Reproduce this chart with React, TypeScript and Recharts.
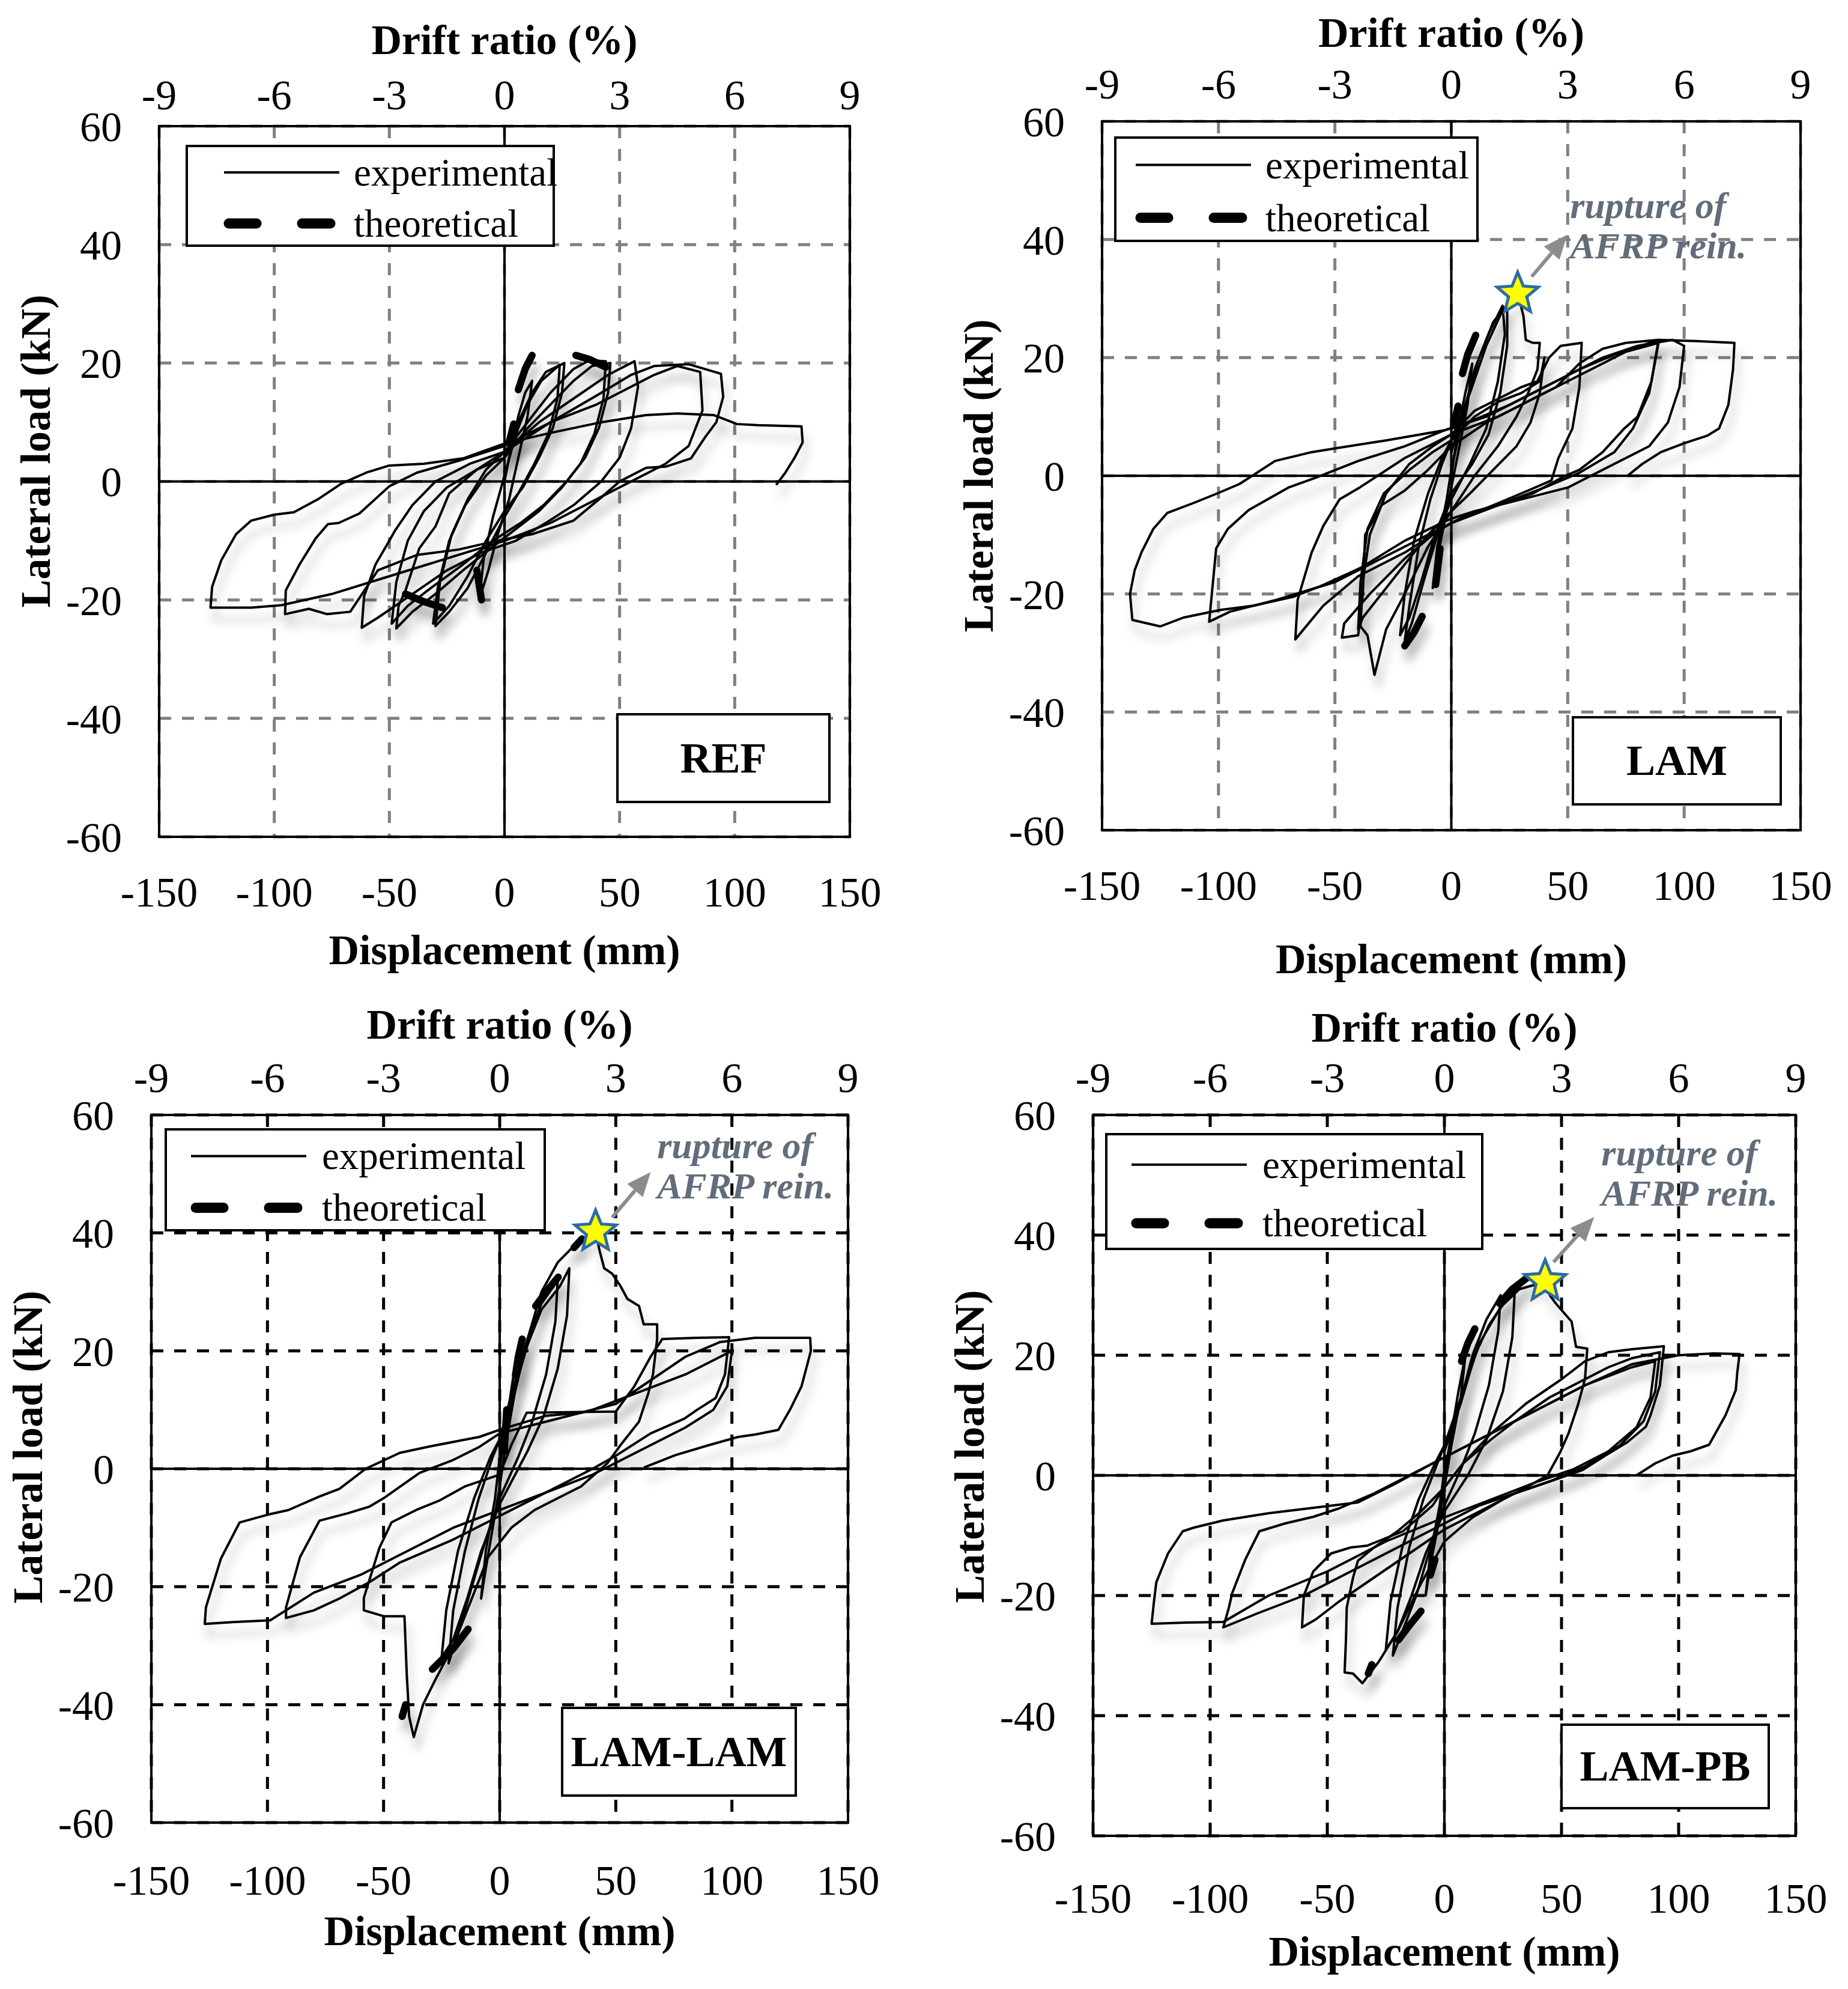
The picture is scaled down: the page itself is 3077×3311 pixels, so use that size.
import React from 'react';
import {
  LineChart,
  Line,
  XAxis,
  YAxis,
  CartesianGrid,
  ReferenceLine,
  ReferenceDot,
} from 'recharts';

/* ================= AXES ================= */
const dispTicks = [-150, -100, -50, 0, 50, 100, 150];
const driftTicks = [-9, -6, -3, 0, 3, 6, 9];
const loadTicks = [-60, -40, -20, 0, 20, 40, 60];

/* ================= REF (displacement mm, load kN) ================= */
const refC1 = [[0,0],[3,6],[6,11],[9,15],[12,17],[10,11],[6,4],[2,-3],[-3,-9],[-7,-15],[-11,-20],[-9,-13],[-5,-6],[0,1]];
const refC2 = [[0,1],[5,8],[10,13],[16,17],[24,19.7],[23,14],[19,8],[13,3],[6,-2],[0,-6],[-8,-12],[-16,-18],[-24,-22],[-30,-24.4],[-28,-17],[-23,-9],[-16,-3],[-8,2],[0,5]];
const refC2b = [[0,4],[6,10],[12,15],[18,18.5],[26,20],[25,15],[21,9],[15,4],[8,-1],[0,-5],[-8,-10],[-16,-16],[-24,-21],[-31,-24],[-29,-18],[-24,-10],[-17,-4],[-8,1],[0,4]];
const refC3 = [[0,5],[10,10],[20,15],[30,19],[37,20.5],[44,20.3],[43,14],[39,8],[33,3],[25,-1],[15,-5],[5,-8],[-5,-11],[-18,-15],[-30,-19],[-40,-22],[-47,-24.8],[-46,-21],[-43,-18.4],[-37,-11.3],[-30,-7.6],[-24,-2],[-12,2],[0,5]];
const refC3b = [[0,4],[10,9],[20,13],[30,17],[38,19.5],[46,20],[45,15],[41,9],[35,4],[27,0],[17,-4],[7,-7],[-5,-10],[-18,-14],[-32,-18],[-42,-21],[-49,-24],[-47,-17],[-42,-10],[-35,-5],[-25,-1],[-12,2],[0,4]];
const refC4 = [[0,5],[15,10],[30,14],[45,18],[56.5,20.3],[58,16],[55,9],[50,4],[42,0],[30,-4],[18,-7],[5,-10],[-10,-12],[-25,-15],[-40,-19],[-55,-23],[-62,-24.7],[-61,-19.4],[-56,-14],[-50,-10],[-47.4,-8.2],[-40,-4],[-30,0],[-15,3],[0,5]];
const refC5 = [[0,5],[20,10],[40,14.5],[55,18],[65,19.5],[80,19.8],[94,18.2],[95,14.3],[92,10],[87,7.4],[81,3.9],[70,2.5],[61.5,2.3],[50,0],[42,-2.7],[30,-6.6],[12,-8.9],[-2,-9.9],[-20,-11.5],[-38,-12.4],[-55,-15],[-67,-22],[-77,-22.4],[-85,-21.5],[-95.3,-22.4],[-95,-18.4],[-89,-14],[-82,-9.6],[-76.7,-7.2],[-72,-7],[-63,-5.4],[-50,-0.8],[-38,1.5],[-20,3.5],[0,6]];
const refC6 = [[0,6],[20,10],[40,13],[55,16],[65,18],[75,19.5],[85,18.5],[86,12],[80,6],[70,3],[55,0],[40,-3],[20,-7],[0,-10],[-25,-13],[-50,-16],[-75,-19],[-97,-20.9],[-110,-21.3],[-127.7,-21.3],[-127,-17.8],[-123,-13.3],[-116.6,-8.9],[-110,-6.6],[-100,-5.6],[-91.5,-5.2],[-81,-3],[-71,-0.4],[-60,1.5],[-50,2.7],[-35,3],[-18,3.9],[0,6.4],[20,8.2],[42,10],[61.5,11.2],[75,11.5],[91,11.2],[101,9.7],[110,9.5],[129,9.3],[129.5,6.6],[126,4],[122,1.5],[118,-0.6]];
const refTh1 = [[6,15.5],[9,19],[12,21.3]];
const refTh2 = [[31,21.3],[37,20.6],[44,19.3]];
const refTh3 = [[2,6.6],[4,9.7]];
const refTh4 = [[-43,-19],[-35,-20.3],[-27,-21.3]];
const refTh5 = [[-12,-15],[-10,-20]];

/* ================= LAM ================= */
const lamC1 = [[0,0],[3,8],[6,14],[9,19],[7,12],[3,4],[0,-2],[-3,-8],[-6,-14],[-8,-19],[-6,-12],[-2,-4],[0,1]];
const lamC2 = [[0,1],[5,10],[10,18],[16,24],[22,28.8],[23,24],[20,16],[15,8],[8,2],[0,-4],[-6,-10],[-12,-18],[-17,-25],[-20,-28],[-18,-22],[-14,-12],[-9,-4],[-4,2],[0,6]];
const lamC2b = [[0,4],[6,12],[12,20],[18,26],[24,29],[24,22],[21,14],[16,7],[9,2],[0,-3],[-7,-10],[-13,-18],[-18,-24],[-22,-27],[-20,-20],[-16,-11],[-10,-3],[-4,3],[0,6]];
const lamC3 = [[0,6],[8,14],[15,22],[22,28],[28.7,30.7],[31,27],[32,23],[35,22.5],[38,22.5],[37,18],[33,14],[28,10],[20,5],[10,0],[0,-6],[-10,-12],[-20,-20],[-28,-26],[-33,-33.7],[-36,-27],[-39,-25.5],[-38,-18],[-35,-10],[-28,-3],[-18,2],[-8,5],[0,7]];
const lamC4 = [[0,7],[10,11],[20,13],[30,15],[37,16],[42,20],[47,22],[56,22.5],[55,15],[52,8],[46,3],[43,-0.8],[30,-3],[18,-5],[5,-7],[-5,-9],[-20,-14],[-35,-20],[-46,-25],[-47,-27.4],[-40,-27],[-38,-20],[-37,-10],[-30,-5],[-20,-2.5],[-10,1],[0,5]];
const lamC4b = [[0,6],[10,10],[20,12.5],[30,14],[38,16],[40,20],[38,14],[34,9],[28,5],[18,1],[8,-3],[0,-6],[-10,-10],[-20,-15],[-30,-20],[-38,-24],[-40,-26],[-39,-18],[-36,-9],[-29,-3],[-18,1],[-8,4],[0,6]];
const lamC5 = [[0,5],[15,9],[30,12],[45,15],[55,19],[65,21.5],[75,22.5],[89,23],[86,16],[80,10],[74,7.9],[65,4],[55,1],[49,0],[35,-3],[20,-5],[0,-8],[-20,-13],[-40,-17],[-55,-22],[-67,-27.7],[-66,-21],[-60,-13],[-55,-8.5],[-48,-4],[-39,-1.9],[-20,3],[0,7]];
const lamC6 = [[0,7],[20,10],[40,14],[60,18],[75,21],[89,22.5],[85,14],[78,8],[70,4],[55,0.5],[40,-2],[20,-5],[0,-8],[-25,-13],[-50,-18],[-75,-21],[-95,-23],[-104,-24.7],[-101,-12.3],[-96,-9],[-87,-5.8],[-70,-2],[-58,-0.3],[-40,2.5],[-20,5],[-3,7.7]];
const lamC7 = [[-3,7.7],[15,10],[35,14],[50,17],[65,20],[80,22],[95,23],[100,22],[98,15],[93,9],[85,5],[70,2],[50,-2],[30,-4],[10,-6],[-1,-7.4],[-20,-11],[-39,-15.6],[-55,-18.5],[-68,-20.5],[-85,-22],[-99,-22.7],[-115,-24],[-125,-25.5],[-137,-24.4],[-138,-20],[-136,-16],[-133,-12.9],[-128,-9],[-122,-6.3],[-110,-4.5],[-100.6,-3],[-91,-1.4],[-75.7,2.5],[-60,4],[-48.9,4.7],[-27.8,6],[-2.9,7.7]];
const lamC8 = [[-2.9,7.7],[10,9.5],[25,12],[40,15],[55,18],[70,20.5],[89,23],[105,22.8],[121.6,22.5],[121,18],[119,12],[115,8],[110,6.8],[100,5.5],[90,4],[82,2],[75.7,0]];
const lamTh1 = [[4.8,17.3],[7,20.5],[10.5,23.8]];
const lamTh2 = [[1,8.5],[2.9,11.8]];
const lamTh3 = [[-4.8,-12.3],[-6.7,-18.4]];
const lamTh4 = [[-12.5,-23.8],[-16,-26.5],[-20,-28.8]];

/* ================= LAM-LAM ================= */
const llC1 = [[0,0],[3,8],[6,16],[9,22],[7,14],[3,5],[0,-3],[-3,-10],[-6,-17],[-8,-22],[-6,-14],[-2,-5],[0,2]];
const llC2 = [[0,2],[6,12],[12,22],[18,28],[25,32],[24,25],[20,16],[14,8],[8,2],[0,-5],[-6,-12],[-12,-20],[-18,-28],[-22,-33],[-20,-24],[-15,-14],[-9,-5],[-3,2],[0,5]];
const llC2b = [[0,4],[6,13],[12,21],[18,27],[26,31],[30,34],[29,26],[25,17],[19,9],[12,3],[0,-6],[-8,-14],[-14,-22],[-20,-29],[-25,-32],[-23,-24],[-18,-14],[-11,-5],[-4,2],[0,5]];
const llC3 = [[0,5],[6,14],[12,22],[18,30],[25,35],[31,37.4],[37,39],[41.3,40.2],[43,37],[45,34],[48.4,33.1],[52,31],[55,28.8],[60,27.6],[62,24.5],[67.8,24.5],[67.8,22],[66,16],[64,12.8],[60,8],[52,4],[46.5,1],[35,-3],[25,-5],[15,-7],[5,-10],[-5,-15],[-12,-22],[-20,-30],[-28,-36],[-33,-40],[-37,-45.5],[-39,-42],[-40,-35],[-41,-25],[-50,-25],[-58.5,-24],[-58.5,-21.9],[-51.8,-13.4],[-46.6,-9.1],[-36,-7],[-26,-5.4],[-15,-3],[0,-1]];
const llC4 = [[0,-1],[5,4],[11.6,9.5],[30,9.6],[50,9.7],[58,14],[65,19],[70,22],[85,22.2],[98.8,22.3],[97,16],[93,12],[85,10],[79.5,8.5],[65,6],[50.4,2.3],[40,0],[25,-3],[10,-6],[0,-8],[-20,-12],[-43,-15.9],[-56,-19.2],[-69,-22],[-80,-24],[-92,-25.3],[-92,-23.5],[-86,-15],[-77.6,-8.8],[-65,-7.5],[-56,-6.4],[-50,-5],[-34.5,-0.7],[-20,1.5],[-8.8,3.7],[0,6]];
const llC5 = [[0,6],[20,8],[40,10],[60,13],[80,16],[95,19],[100,20],[98,14],[92,10],[80,7],[60,3],[40,-1],[20,-4],[0,-7],[-20,-10],[-40,-14],[-60,-18],[-80,-21],[-98.8,-25.7],[-115,-26],[-127,-26.3],[-126.5,-23.5],[-120,-15.2],[-112,-9.1],[-100,-7.8],[-91,-7],[-77.6,-4.7],[-69,-3.4],[-57.7,0],[-43,2.7],[-30,3.8],[-8.8,5.4],[0,6.6]];
const llC6 = [[0,6.6],[20,9],[35,9.5],[50,11],[65,15],[80,19],[95,21.5],[110,22.2],[133.7,22.2],[134,20],[130,14],[125,10],[120,6.6],[110,5.8],[102.7,5.4],[90,4],[75.6,2.3],[62,0.2]];
const llTh1 = [[15.5,27.6],[20,30],[25.2,32.5]];
const llTh2 = [[32,37.5],[35.5,39]];
const llTh3 = [[6.8,15.9],[8,19],[9.7,22]];
const llTh4 = [[2,3],[3,10]];
const llTh5 = [[-13.6,-27.2],[-20,-30.5],[-29,-34]];
const llTh6 = [[-40.5,-40],[-42,-42]];

/* ================= LAM-PB ================= */
const pbC1 = [[0,0],[3,7],[6,14],[9,20],[7,13],[3,5],[0,-2],[-3,-9],[-6,-15],[-8,-20],[-6,-13],[-2,-5],[0,1]];
const pbC2 = [[0,1],[6,11],[12,20],[18,26],[24,30],[23,24],[19,15],[13,7],[7,1],[0,-5],[-6,-12],[-12,-20],[-18,-26],[-22,-30],[-20,-22],[-15,-12],[-9,-4],[-3,2],[0,5]];
const pbC2b = [[0,4],[7,12],[13,20],[19,25],[26,29],[30,30.5],[29,23],[25,14],[18,6],[10,0],[0,-6],[-8,-13],[-14,-20],[-20,-26],[-25,-29],[-23,-21],[-18,-12],[-11,-4],[-4,2],[0,5]];
const pbC3 = [[0,5],[8,14],[15,22],[24,28],[32,31],[42.8,32.2],[45,30],[47.6,28.6],[54.3,25.6],[56.2,21.4],[61,21.1],[60,16],[57,11.7],[53,7],[49.5,3.9],[44,0],[35,-2],[25,-4],[12,-7],[0,-11],[-10,-18],[-20,-26],[-28,-31],[-35,-34.6],[-39,-33],[-42.6,-32.8],[-42,-27],[-41.7,-22],[-39,-17],[-36.9,-14.2],[-30,-12],[-20,-9.3],[-10,-6],[0,-2],[8,2]];
const pbC4 = [[8,2],[20,7],[35,12],[50,16],[60,19],[70,20.5],[80,21],[93.7,21.5],[92,15],[88,10],[86,8.1],[78,5.5],[68.7,3.3],[59,0.9],[45,-1],[30,-3],[15,-6],[0,-9],[-15,-13],[-30,-17],[-45,-21],[-55,-24],[-60.8,-25.3],[-60,-20],[-56,-16],[-48.4,-13],[-40,-12],[-33,-11.7],[-17.7,-9.3],[-5,-5],[0,-2]];
const pbC5 = [[0,-2],[8,2],[20,6],[30,9],[45,13],[60,16],[70,18],[80,19.5],[92,20.5],[90,14],[85,9],[75,5],[60,1.5],[45,-1],[30,-3],[15,-5],[0,-8],[-20,-12],[-40,-16],[-60,-20],[-80,-23],[-94.4,-25.3],[-92,-22],[-90.6,-19.6],[-85,-14],[-79,-9.3],[-68,-8],[-56,-6.9],[-45,-5.5],[-30,-3],[-15,0],[0,3]];
const pbC6 = [[0,3],[20,7],[40,11],[60,15],[80,18],[90,19],[88,13],[82,8],[70,4],[55,1],[40,-1],[20,-4],[0,-7],[-25,-11],[-50,-16],[-75,-20],[-94.4,-24.4],[-110,-24.5],[-125,-24.7],[-124,-21],[-123,-17.8],[-118,-13],[-111.7,-9.3],[-107,-8.7],[-94.4,-7.5],[-75,-6.3],[-56,-5.4],[-36.9,-4.5],[-21.5,-1.5],[-5,2],[0,3]];
const pbC7 = [[0,3],[20,7],[40,11],[60,15],[80,18.5],[100,20],[115,20.3],[126,20.2],[125,17],[124.4,14.2],[120,10],[113,5.1],[105,4],[97.5,3.3],[90,2],[82,0]];
const pbTh1 = [[23.6,28.6],[29,31],[35,32.8]];
const pbTh2 = [[7.3,19],[10,22],[13,24.4]];
const pbTh3 = [[-10,-22.6],[-15,-25],[-19.6,-27.4]];
const pbTh4 = [[-4,-14],[-6,-16.6]];
const pbTh5 = [[-31,-31.5],[-32.5,-33]];

/* ================= ANNOTATIONS (data coords) ================= */
const lamStar = [28.5, 30.8];
const lamArrow = [[34.5, 33.7], [49.8, 40.8]];
const lamNote = [51, 45.8];
const llStar = [41.3, 40.2];
const llArrow = [[48.4, 42.6], [65, 50.3]];
const llNote = [67.8, 54.8];
const pbStar = [43, 32.3];
const pbArrow = [[46.6, 35.5], [63.9, 43]];
const pbNote = [67, 53.7];

/* ================= HELPERS ================= */
const FONT = "'Liberation Serif', 'Times New Roman', serif";
const NOTE_COLOR = '#616d7b';
const toPts = (arr: number[][]) => arr.map(([x, y]) => ({ x, y }));

const ML = 260;
const MT = 240;
const MR = 90;
const MB = 260;

const starShape = (p: any) => {
  const { cx, cy } = p;
  const R = 36;
  const r = 16;
  const pts: string[] = [];
  for (let i = 0; i < 10; i++) {
    const a = -Math.PI / 2 + (i * Math.PI) / 5;
    const rad = i % 2 === 0 ? R : r;
    pts.push(`${cx + rad * Math.cos(a)},${cy + rad * Math.sin(a)}`);
  }
  return (
    <polygon
      points={pts.join(' ')}
      fill="#ffff00"
      stroke="#2b6ca3"
      strokeWidth={5}
      strokeLinejoin="miter"
    />
  );
};

const arrowShape = (p: any) => {
  const { x1, y1, x2, y2 } = p;
  const ang = Math.atan2(y2 - y1, x2 - x1);
  const L = 40;
  const W = 17;
  const bx = x2 - L * Math.cos(ang);
  const by = y2 - L * Math.sin(ang);
  const nx = -Math.sin(ang) * W;
  const ny = Math.cos(ang) * W;
  return (
    <g>
      <line x1={x1} y1={y1} x2={bx} y2={by} stroke="#8c8c8c" strokeWidth={6} />
      <polygon
        points={`${x2},${y2} ${bx + nx},${by + ny} ${bx - nx},${by - ny}`}
        fill="#8c8c8c"
      />
    </g>
  );
};

const noteShape = (p: any) => {
  const { cx, cy } = p;
  return (
    <text
      x={cx}
      y={cy}
      fontFamily={FONT}
      fontStyle="italic"
      fontWeight="bold"
      fontSize={62}
      fill={NOTE_COLOR}
      dominantBaseline="central"
    >
      <tspan x={cx}>rupture of</tspan>
      <tspan x={cx} dy={67}>
        AFRP rein.
      </tspan>
    </text>
  );
};

/* ================= PANEL ================= */
interface PanelProps {
  left: number;
  top: number;
  w: number;
  h: number;
  loops: number[][][];
  theory: number[][][];
  gridColor: string;
  name: string;
  nameBox: { right: number; bottom: number; w: number; h: number };
  legend: { dx: number; dy: number; w: number; h: number; sx: number; tx: number };
  yShift: number;
  topTick: number;
  topTitle: number;
  bottomTick: number;
  bottomTitle: number;
  star?: number[];
  arrow?: number[][];
  note?: number[];
}

function LegendBox({ x, y, w, h, sx, tx }: any) {
  const r1 = h * 0.27;
  const r2 = h * 0.77;
  return (
    <div
      style={{
        position: 'absolute',
        left: x,
        top: y,
        width: w,
        height: h,
        border: '4px solid #000',
        background: '#fff',
        boxSizing: 'border-box',
        fontFamily: FONT,
      }}
    >
      <svg width={w} height={h} style={{ position: 'absolute', left: -4, top: -4 }}>
        <line x1={sx} x2={sx + 192} y1={r1} y2={r1} stroke="#000" strokeWidth={4} />
        <line x1={sx + 8} x2={sx + 54} y1={r2} y2={r2} stroke="#000" strokeWidth={17} strokeLinecap="round" />
        <line x1={sx + 130} x2={sx + 177} y1={r2} y2={r2} stroke="#000" strokeWidth={17} strokeLinecap="round" />
      </svg>
      <span style={{ position: 'absolute', left: tx - 4, top: r1 - 4, transform: 'translateY(-50%)', fontSize: 65, lineHeight: 1, whiteSpace: 'nowrap' }}>
        experimental
      </span>
      <span style={{ position: 'absolute', left: tx - 4, top: r2 - 4, transform: 'translateY(-50%)', fontSize: 65, lineHeight: 1, whiteSpace: 'nowrap' }}>
        theoretical
      </span>
    </div>
  );
}

function Panel(props: PanelProps) {
  const { left, top, w, h, loops, theory, gridColor, name, nameBox, legend, yShift } = props;
  const tickStyle = { fontSize: 70, fill: '#000', fontFamily: FONT };
  const titleStyle: React.CSSProperties = {
    position: 'absolute',
    fontFamily: FONT,
    fontWeight: 'bold',
    fontSize: 70,
    lineHeight: 1,
    whiteSpace: 'nowrap',
    color: '#000',
  };

  return (
    <>
      <div style={{ position: 'absolute', left: left - ML, top: top - MT }}>
        <LineChart
          width={ML + w + MR}
          height={MT + h + MB}
          margin={{ top: 0, right: MR, bottom: 0, left: 0 }}
        >
          <CartesianGrid
            xAxisId="b"
            stroke={gridColor}
            strokeDasharray="20 18"
            strokeWidth={5}
          />
          <XAxis
            xAxisId="b"
            orientation="bottom"
            type="number"
            dataKey="x"
            domain={[-150, 150]}
            ticks={dispTicks}
            interval={0}
            height={MB}
            tickSize={0}
            tickMargin={props.bottomTick}
            axisLine={false}
            tickLine={false}
            tick={tickStyle}
            allowDataOverflow
          />
          <XAxis
            xAxisId="t"
            orientation="top"
            type="number"
            dataKey="x"
            domain={[-9, 9]}
            ticks={driftTicks}
            interval={0}
            height={MT}
            tickSize={0}
            tickMargin={props.topTick}
            axisLine={false}
            tickLine={false}
            tick={tickStyle}
            allowDataOverflow
          />
          <YAxis
            type="number"
            dataKey="y"
            domain={[-60, 60]}
            ticks={loadTicks}
            interval={0}
            width={ML}
            tickSize={0}
            tickMargin={62}
            axisLine={false}
            tickLine={false}
            tick={tickStyle}
            allowDataOverflow
          />
          <ReferenceLine xAxisId="b" x={0} stroke="#000" strokeWidth={4} />
          <ReferenceLine xAxisId="b" y={0} stroke="#000" strokeWidth={4} />
          <Line
            xAxisId="t"
            data={driftTicks.map((d) => ({ x: d, y: 0 }))}
            dataKey="y"
            stroke="none"
            dot={false}
            activeDot={false}
            isAnimationActive={false}
          />
          {loops.map((loop, i) => (
            <Line
              key={`c${i}`}
              xAxisId="b"
              data={toPts(loop)}
              dataKey="y"
              type="linear"
              stroke="#000"
              strokeWidth={4}
              strokeLinejoin="round"
              dot={false}
              activeDot={false}
              isAnimationActive={false}
            />
          ))}
          {theory.map((seg, i) => (
            <Line
              key={`t${i}`}
              xAxisId="b"
              data={toPts(seg)}
              dataKey="y"
              type="linear"
              stroke="#000"
              strokeWidth={12}
              strokeLinecap="round"
              dot={false}
              activeDot={false}
              isAnimationActive={false}
            />
          ))}
          {props.arrow && (
            <ReferenceLine
              xAxisId="b"
              segment={[
                { x: props.arrow[0][0], y: props.arrow[0][1] },
                { x: props.arrow[1][0], y: props.arrow[1][1] },
              ]}
              shape={arrowShape}
            />
          )}
          {props.star && (
            <ReferenceDot xAxisId="b" x={props.star[0]} y={props.star[1]} r={36} shape={starShape} />
          )}
          {props.note && (
            <ReferenceDot xAxisId="b" x={props.note[0]} y={props.note[1]} r={1} shape={noteShape} />
          )}
        </LineChart>
      </div>

      {/* plot frame */}
      <div
        style={{
          position: 'absolute',
          left: left - 2,
          top: top - 2,
          width: w + 4,
          height: h + 4,
          border: '4px solid #000',
          boxSizing: 'border-box',
          pointerEvents: 'none',
        }}
      />

      {/* axis titles */}
      <div style={{ ...titleStyle, left: left + w / 2, top: top - props.topTitle, transform: 'translate(-50%, -50%)' }}>
        Drift ratio (%)
      </div>
      <div style={{ ...titleStyle, left: left + w / 2, top: top + h + props.bottomTitle, transform: 'translate(-50%, -50%)' }}>
        Displacement (mm)
      </div>
      <div
        style={{
          ...titleStyle,
          left: left - 205,
          top: top + h / 2 + yShift,
          transform: 'translate(-50%, -50%) rotate(-90deg)',
        }}
      >
        Lateral load (kN)
      </div>

      <LegendBox
        x={left + legend.dx}
        y={top + legend.dy}
        w={legend.w}
        h={legend.h}
        sx={legend.sx}
        tx={legend.tx}
      />

      <div
        style={{
          position: 'absolute',
          left: left + w - nameBox.right - nameBox.w,
          top: top + h - nameBox.bottom - nameBox.h,
          width: nameBox.w,
          height: nameBox.h,
          border: '4px solid #000',
          boxSizing: 'border-box',
          background: '#fff',
          display: 'flex',
          alignItems: 'center',
          justifyContent: 'center',
          fontFamily: FONT,
          fontWeight: 'bold',
          fontSize: 72,
        }}
      >
        {name}
      </div>
    </>
  );
}

/* ================= APP ================= */
export default function App() {
  return (
    <div
      style={{
        position: 'absolute',
        left: 0,
        top: 0,
        width: 3077,
        height: 3311,
        background: '#fff',
        overflow: 'hidden',
      }}
    >
      <style>{`.recharts-line-curve { filter: drop-shadow(6px 20px 8px rgba(0,0,0,0.28)); }`}</style>
      <Panel
        left={265}
        top={210}
        w={1150}
        h={1183}
        loops={[refC1, refC2, refC2b, refC3, refC3b, refC4, refC5, refC6]}
        theory={[refTh1, refTh2, refTh3, refTh4, refTh5]}
        gridColor="#808080"
        name="REF"
        nameBox={{ right: 32, bottom: 56, w: 357, h: 150 }}
        legend={{ dx: 44, dy: 31, w: 615, h: 170, sx: 64, tx: 280 }}
        yShift={-51}
        topTick={28}
        topTitle={143}
        bottomTick={66}
        bottomTitle={189}
      />
      <Panel
        left={1835}
        top={202}
        w={1163}
        h={1180}
        loops={[lamC1, lamC2, lamC2b, lamC3, lamC4, lamC4b, lamC5, lamC6, lamC7, lamC8]}
        theory={[lamTh1, lamTh2, lamTh3, lamTh4]}
        gridColor="#808080"
        name="LAM"
        nameBox={{ right: 31, bottom: 41, w: 350, h: 149 }}
        legend={{ dx: 20, dy: 25, w: 607, h: 176, sx: 36, tx: 252 }}
        yShift={0}
        topTick={38}
        topTitle={147}
        bottomTick={66}
        bottomTitle={215}
        star={lamStar}
        arrow={lamArrow}
        note={lamNote}
      />
      <Panel
        left={252}
        top={1856}
        w={1160}
        h={1178}
        loops={[llC1, llC2, llC2b, llC3, llC4, llC5, llC6]}
        theory={[llTh1, llTh2, llTh3, llTh4, llTh5, llTh6]}
        gridColor="#000"
        name="LAM-LAM"
        nameBox={{ right: 85, bottom: 43, w: 393, h: 150 }}
        legend={{ dx: 22, dy: 22, w: 635, h: 172, sx: 44, tx: 262 }}
        yShift={-36}
        topTick={38}
        topTitle={150}
        bottomTick={70}
        bottomTitle={181}
        star={llStar}
        arrow={llArrow}
        note={llNote}
      />
      <Panel
        left={1820}
        top={1856}
        w={1170}
        h={1200}
        loops={[pbC1, pbC2, pbC2b, pbC3, pbC4, pbC5, pbC6, pbC7]}
        theory={[pbTh1, pbTh2, pbTh3, pbTh4, pbTh5]}
        gridColor="#000"
        name="LAM-PB"
        nameBox={{ right: 43, bottom: 44, w: 349, h: 143 }}
        legend={{ dx: 20, dy: 30, w: 630, h: 195, sx: 44, tx: 262 }}
        yShift={-48}
        topTick={38}
        topTitle={145}
        bottomTick={78}
        bottomTitle={193}
        star={pbStar}
        arrow={pbArrow}
        note={pbNote}
      />
    </div>
  );
}
